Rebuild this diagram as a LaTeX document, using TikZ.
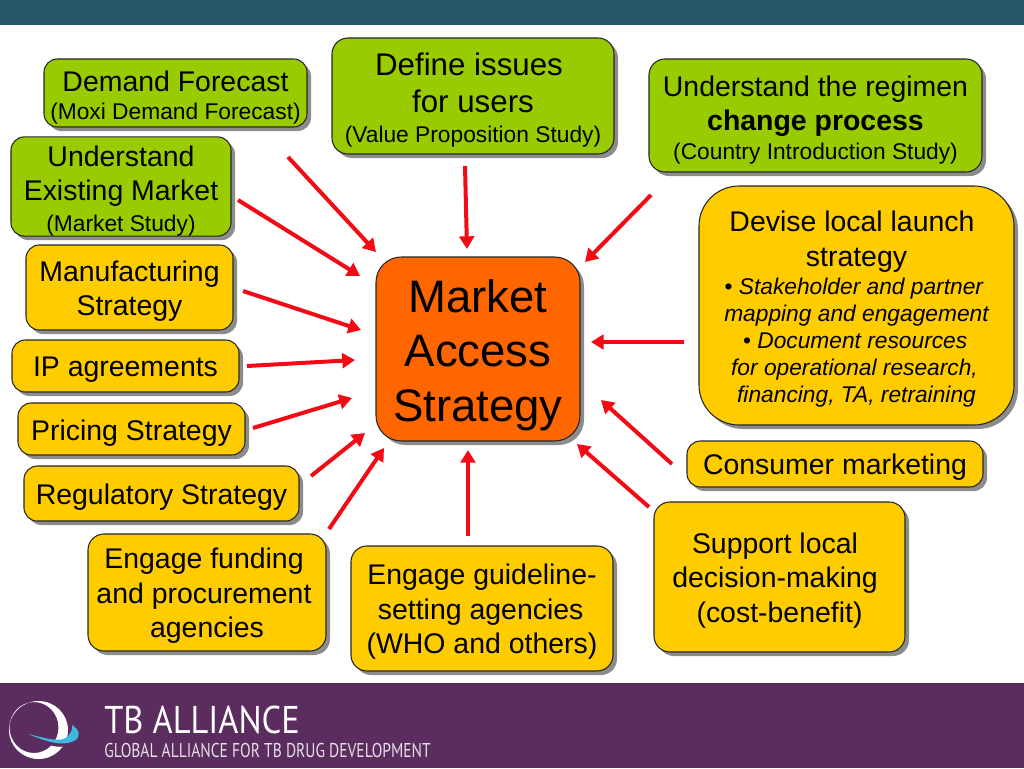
\documentclass[tikz,border=0pt]{standalone}
\usepackage{fontspec}
\setmainfont{Liberation Sans}
\newfontfamily\logofonta[FakeStretch=0.89]{PT Sans}
\newfontfamily\logofontb[FakeStretch=0.776]{PT Sans}
\usetikzlibrary{arrows.meta,shadows,calc}
\newcommand{\bigt}{\fontsize{21.33}{25.8}\selectfont}
\newcommand{\larget}{\fontsize{23.47}{27.75}\selectfont}
\newcommand{\smallt}{\fontsize{17.07}{25.8}\selectfont}
\newcommand{\hugett}{\fontsize{34.13}{41.2}\selectfont}
\newcommand{\tx}[2]{\raisebox{#1}[\height][\depth]{\begin{tabular}{@{}c@{}}#2\end{tabular}}}
\definecolor{boxgreen}{HTML}{99CC00}
\definecolor{boxgold}{HTML}{FFCC00}
\definecolor{boxorange}{HTML}{FF6600}
\definecolor{headbar}{HTML}{275667}
\definecolor{footbar}{HTML}{5A2D5E}
\definecolor{swoosh}{HTML}{3FB8E0}
\definecolor{arrowred}{HTML}{F20A14}
\tikzset{
  bx/.style={draw=black!85,line width=0.8pt,align=center,inner sep=0pt,text=black,font=\bigt,
    drop shadow={shadow xshift=3pt,shadow yshift=-3pt,fill=black!45,opacity=1}},
  greenbox/.style={bx,fill=boxgreen},
  goldbox/.style={bx,fill=boxgold},
  arr/.style={draw=arrowred,line width=3pt,-{Triangle[length=9.5pt,width=11pt,fill=arrowred]}},
}
\newcommand{\ubox}[7]{% name,style,x0,y0,x1,y1,text
  \node[#2,minimum width={(#5-#3)*0.75pt},minimum height={(#6-#4)*0.75pt}] (#1) at ({(#3+#5)/2},{(#4+#6)/2}) {#7};}
\begin{document}
\begin{tikzpicture}[x=0.75pt,y=-0.75pt]
\useasboundingbox (0,0) rectangle (1024,768);
\fill[white] (0,0) rectangle (1024,768);
\fill[headbar] (0,0) rectangle (1024,25);
\fill[footbar] (0,683) rectangle (1024,768);
% logo
\fill[white,even odd rule] (38.5,730) ellipse [x radius=29.5,y radius=29] (34,727.5) ellipse [x radius=24.5,y radius=25.5];
\fill[footbar] (40,736) .. controls (50,741) and (62,744) .. (70,736) -- (72,744) .. controls (62,749) and (50,747) .. (40,740) -- cycle;
\fill[swoosh] (28,734) .. controls (45,738) and (60,743) .. (67,737) .. controls (71,733) and (73,729) .. (72,725) .. controls (79,729) and (82,737) .. (74,741) .. controls (62,747) and (45,741) .. (28,734) -- cycle;
\node[anchor=base west,inner sep=0pt,text=white,font=\logofonta\fontsize{29}{32}\selectfont] (tb) at (104,733) {TB ALLIANCE};
\node[anchor=base west,inner sep=0pt,text=white!85!footbar,font=\logofontb\fontsize{15}{16}\selectfont] (ga) at (104,757) {GLOBAL ALLIANCE FOR TB DRUG DEVELOPMENT};
% boxes
\tikzset{rounded corners=10pt}
\ubox{demand}{greenbox}{44}{59}{307}{127}{\tx{-4.25pt}{Demand Forecast\\[-5pt]\smallt (Moxi Demand Forecast)}}
\ubox{existing}{greenbox}{11}{138}{231}{235}{\tx{-4pt}{Understand\\Existing Market\\[-3pt]\smallt (Market Study)}}
\ubox{manuf}{goldbox}{26}{245}{233}{330}{\tx{-3.25pt}{Manufacturing\\Strategy}}
\ubox{ip}{goldbox}{12}{340}{239}{392}{\tx{-3pt}{IP agreements}}
\ubox{pricing}{goldbox}{18}{403}{245}{455}{\tx{-3.25pt}{Pricing Strategy}}
\ubox{regul}{goldbox}{24}{466}{299}{521}{\tx{-3.25pt}{Regulatory Strategy}}
\ubox{consumer}{goldbox}{687}{441}{983}{487}{\tx{-2.5pt}{Consumer marketing}}
\tikzset{rounded corners=12pt}
\ubox{define}{greenbox}{332}{38}{614}{154}{\tx{-4.75pt}{\larget Define issues\hspace*{6pt}\\[1.5pt]\larget for users\\[-3pt]\smallt (Value Proposition Study)}}
\ubox{regimen}{greenbox}{649}{59}{982}{172}{\tx{-4.25pt}{Understand the regimen\\[-0.75pt]\bfseries change process\\[-3.75pt]\smallt (Country Introduction Study)}}
\ubox{funding}{goldbox}{88}{534}{326}{651}{\tx{-3pt}{Engage funding\hspace*{4.5pt}\\and procurement\hspace*{4.5pt}\\agencies}}
\ubox{guide}{goldbox}{351}{546}{613}{671}{\tx{-3pt}{Engage guideline-\\setting agencies\hspace*{2pt}\\(WHO and others)}}
\ubox{support}{goldbox}{654}{502}{905}{652}{\tx{-3pt}{Support local\hspace*{6.75pt}\\decision-making\hspace*{6.75pt}\\(cost-benefit)}}
\tikzset{rounded corners=30pt}
\ubox{devise}{goldbox}{699}{186}{1014}{425}{\tx{-3.75pt}{Devise local launch\hspace*{6.75pt}\\strategy\\[-4.5pt]\smallt • \itshape Stakeholder and partner\hspace*{4pt}\\[-5.5pt]\smallt\itshape mapping and engagement\\[-5.5pt]\smallt • \itshape Document resources\hspace*{2pt}\\[-5.5pt]\smallt\itshape for operational research,\hspace*{3pt}\\[-5.5pt]\smallt\itshape financing, TA, retraining}}
\tikzset{rounded corners=19pt}
\ubox{market}{bx,fill=boxorange,font=\hugett}{376}{257}{580}{441}{\tx{-5.25pt}{Market\\Access\\Strategy}}
\tikzset{rounded corners=0pt}
% connector ends
\foreach \n/\sx/\sy/\ex/\ey in {
 a/288/157/376/252, b/238/200/360/276, c/243/291/361/330, d/247/366/355/360,
 e/253/428/352/398, f/311/476/365/433, g/329/529/384/448, h/468/536/468/450,
 i/649/507/577/444, j/672/464/601/400, k/684/342/591/342, l/651/195/585/262,
 m/465/166/467/249}{
  \coordinate (s\n) at (\sx,\sy);
  \coordinate (t\n) at (\ex,\ey);
  \draw[arr] (s\n) -- (t\n);
}
\end{tikzpicture}
\end{document}
